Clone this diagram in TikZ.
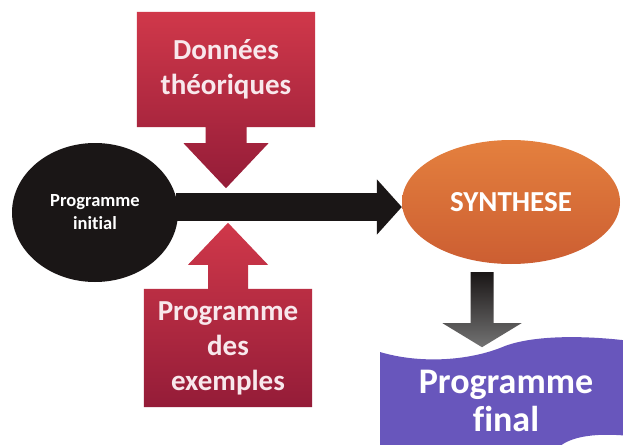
\documentclass[tikz,border=0pt]{standalone}
\usepackage{fontspec}
\setmainfont{Carlito}[Ligatures={NoCommon,NoDiscretionary,NoContextual}]
\usetikzlibrary{positioning,arrows.meta,calc,backgrounds,shapes.geometric}

\definecolor{calltop}{RGB}{208,56,74}
\definecolor{callbot}{RGB}{148,28,56}
\definecolor{inkblack}{RGB}{26,22,22}
\definecolor{synthlt}{RGB}{228,128,62}
\definecolor{synthdk}{RGB}{204,94,50}
\definecolor{finalpurp}{RGB}{104,86,188}
\definecolor{lbltxt}{RGB}{248,232,236}

\begin{document}
\begin{tikzpicture}[
  x=1pt, y=-1pt,
  font=\bfseries,
  lbl/.style={align=center, text=lbltxt, inner sep=0pt},
  callbox/.style={lbl, font=\bfseries\fontsize{29}{35}\selectfont},
  callfill/.style={top color=calltop, bottom color=callbot},
  blob/.style={ellipse, inner sep=0pt, align=center, text=white},
  bigarrow/.style={draw=inkblack, line width=28pt, -{Triangle[length=25pt,width=54pt]}},
  downfill/.style={top color=inkblack, bottom color=black!55}
]
\useasboundingbox (0,0) rectangle (623,444);
\clip (0,0) rectangle (623,444);
% ---------------- ellipses
\node[blob, fill=inkblack, minimum width=166pt, minimum height=139pt,
      font=\bfseries\fontsize{18.5}{23}\selectfont] (initial) at (95,212.5) {Programme\\ initial};
\node[blob, top color=synthlt, bottom color=synthdk, minimum width=218pt, minimum height=124pt,
      font=\bfseries\fontsize{29}{35}\selectfont] (synth) at (511,202) {SYNTHESE};
\draw[bigarrow] ($(initial.east)+(-2,-5.5)$) -- ($(initial.east -| synth.west)+(0,-5.5)$);
% ---------------- callouts
\node[callbox, minimum width=178pt, minimum height=115pt] (donnees) at (226,69.5) {Données\\ théoriques};
\node[callbox, minimum width=168pt, minimum height=118pt] (exemples) at (228,348) {Programme\\ des\\ exemples};
\begin{scope}[on background layer]
\fill[white] (0,0) rectangle (623,444);
\path[callfill] (donnees.north west) -- (donnees.north east) -- (donnees.south east)
  -- ($(donnees.south)+(20.5,0)$) -- ++(0,16) -- ++(22,0) -- ($(donnees.south)+(0,61)$)
  -- ($(donnees.south)+(-42.5,16)$) -- ++(22,0) -- ($(donnees.south)+(-20.5,0)$)
  -- (donnees.south west) -- cycle;
\path[callfill] (exemples.south west) -- (exemples.south east) -- (exemples.north east)
  -- ($(exemples.north)+(20,0)$) -- ++(0,-24) -- ++(20,0) -- ($(exemples.north)+(0,-66)$)
  -- ($(exemples.north)+(-40,-24)$) -- ++(20,0) -- ($(exemples.north)+(-20,0)$)
  -- (exemples.north west) -- cycle;
\end{scope}
% ---------------- final
\path[fill=finalpurp] (380,352) .. controls (420,364) and (470,361) .. (505,346)
  .. controls (540,333) and (600,337) .. (630,341) -- (630,436)
  .. controls (590,432) and (566,438) .. (556,450) -- (380,450) -- cycle;
\node[lbl, text=white, font=\bfseries\fontsize{36}{38}\selectfont] (final) at (506,401) {Programme\\ final};
\path[downfill] ($(synth.south)+(-40.5,8)$) -- ++(23,0) -- ++(0,51) -- ++(28,0)
  -- ++(-39.5,24) -- ++(-39.5,-24) -- ++(28,0) -- cycle;
\end{tikzpicture}
\end{document}
